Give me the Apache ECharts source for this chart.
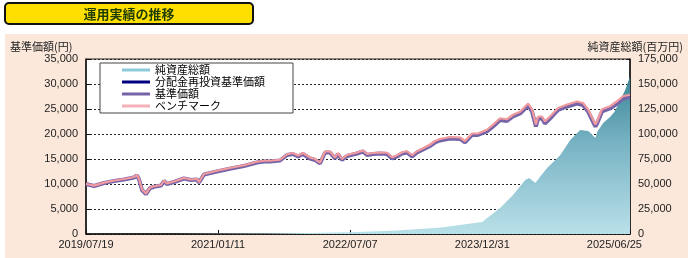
<!DOCTYPE html>
<html><head><meta charset="utf-8">
<script src="https://cdn.jsdelivr.net/npm/echarts@6/dist/echarts.min.js"></script>
<style>html,body{margin:0;padding:0;background:#fff}#c{width:691px;height:258px}</style>
</head><body><div id="c"></div>
<script>
const startDate = '2019/07/19';
const tickLabels = ['2019/07/19','2021/01/11','2022/07/07','2023/12/31','2025/06/25'];
const navDates = ['2019/07/19','2019/08/21','2019/10/01','2019/11/11','2019/12/22','2020/02/01','2020/02/13','2020/02/21','2020/03/05','2020/03/21','2020/04/07','2020/04/27','2020/05/22','2020/06/03','2020/06/15','2020/07/14','2020/08/24','2020/09/22','2020/10/16','2020/10/25','2020/11/14','2021/01/06','2021/03/05','2021/04/27','2021/06/20','2021/07/18','2021/08/12','2021/09/22','2021/10/21','2021/11/14','2021/12/05','2021/12/25','2022/01/23','2022/02/13','2022/03/05','2022/03/26','2022/04/15','2022/05/06','2022/05/18','2022/06/03','2022/06/24','2022/08/04','2022/08/29','2022/09/14','2022/10/09','2022/11/06','2022/12/05','2022/12/26','2023/01/15','2023/02/05','2023/02/25','2023/03/18','2023/04/07','2023/05/02','2023/05/30','2023/06/20','2023/07/10','2023/08/21','2023/10/01','2023/10/21','2023/11/19','2023/12/13','2024/01/19','2024/02/13','2024/03/13','2024/04/10','2024/05/05','2024/06/03','2024/07/06','2024/07/22','2024/08/07','2024/08/16','2024/09/01','2024/09/13','2024/10/12','2024/11/06','2024/12/13','2025/01/23','2025/02/16','2025/03/09','2025/04/08','2025/04/15','2025/05/05','2025/06/07','2025/07/06','2025/07/30','2025/08/28'];
const navValues = [10000,9600,10200,10600,10900,11300,11700,11000,8800,8000,9200,9500,9700,10600,10000,10400,11100,10800,10900,10300,11900,12500,13100,13600,14300,14500,14500,14700,15800,16000,15500,16000,15100,14800,14100,16300,16300,15100,16000,14800,15600,16100,16500,15800,16000,16100,16000,15100,15500,16100,16300,15500,16300,16900,17600,18300,18700,19100,19000,18300,19800,19800,20500,21500,22800,22600,23500,24100,25700,24500,21500,23100,23100,22100,23500,24800,25500,26100,25800,24500,21500,22100,24500,25100,26100,27100,27400];
const reinvestValues = navValues;
const benchValues = [10050,9680,10280,10700,11000,11400,11800,11100,8900,8100,9300,9600,9800,10700,10100,10500,11200,10900,11000,10400,12000,12650,13250,13750,14450,14650,14650,14850,15950,16200,15700,16200,15300,15000,14300,16500,16500,15300,16200,15000,15800,16300,16700,16000,16200,16300,16250,15350,15750,16350,16550,15750,16550,17150,17850,18600,19000,19400,19300,18600,20100,20100,20850,21850,23150,22950,23850,24450,26100,24900,21900,23500,23500,22500,23900,25200,25900,26500,26200,24900,21900,22500,24950,25550,26550,27550,27850];
const assetDates = ['2019/07/19','2020/07/15','2021/01/11','2021/08/01','2022/01/15','2022/07/07','2023/01/15','2023/07/15','2023/12/31','2024/01/10','2024/02/10','2024/03/13','2024/05/05','2024/06/24','2024/07/10','2024/08/05','2024/08/20','2024/09/22','2024/11/03','2024/11/15','2024/12/26','2025/02/05','2025/03/10','2025/04/08','2025/04/15','2025/05/10','2025/06/07','2025/06/25','2025/07/20','2025/08/10','2025/08/20','2025/08/28'];
const assetValues = [0,50,150,400,900,1700,3500,6500,12000,14000,20000,26000,39000,54000,56000,51000,56000,66000,76000,79000,94000,104000,103000,96000,102000,111000,117000,122000,134000,145000,152000,157000];

function dayOf(s){const p=s.split('/').map(Number);const q=startDate.split('/').map(Number);return Math.round((Date.UTC(p[0],p[1]-1,p[2])-Date.UTC(q[0],q[1]-1,q[2]))/86400000);}
const tickStep = dayOf(tickLabels[1]);
const endDay = dayOf(navDates[navDates.length-1]);
const pair = (d,v)=>d.map((x,i)=>[dayOf(x),v[i]]);

const FONT = "'Liberation Sans','Noto Sans CJK JP',sans-serif";
const chart = echarts.init(document.getElementById('c'));
chart.setOption({
  animation:false,
  backgroundColor:'#fff',
  graphic:[
    {type:'rect',z:-100,shape:{x:5,y:34,width:683,height:224},style:{fill:'#fbe8da'}},
    {type:'rect',z:100,shape:{x:5,y:3,width:248,height:21,r:4},style:{fill:'#ffdf00',stroke:'#111',lineWidth:2}},
    {type:'text',z:101,x:129,y:14,style:{text:'運用実績の推移',fill:'#1f3d00',font:"bold 13px 'Noto Sans CJK JP',sans-serif",align:'center',verticalAlign:'middle'}},
    {type:'text',z:101,x:10,y:47,style:{text:'基準価額(円)',fill:'#222',font:"11px 'Noto Sans CJK JP',sans-serif",verticalAlign:'middle'}},
    {type:'text',z:101,x:683,y:47,style:{text:'純資産総額(百万円)',fill:'#222',font:"11px 'Noto Sans CJK JP',sans-serif",align:'right',verticalAlign:'middle'}}
  ],
  grid:{left:86,right:61,top:59,bottom:24,show:true,backgroundColor:'#fff',borderColor:'#222',borderWidth:1},
  legend:{
    orient:'vertical',left:100,top:63,backgroundColor:'#fff',borderColor:'#444',borderWidth:1,
    padding:[1,28,1,22],itemWidth:28,itemHeight:3,itemGap:0,
    textStyle:{fontSize:11,color:'#000',fontFamily:"'Noto Sans CJK JP',sans-serif",lineHeight:12},
    data:[{name:'純資産総額',icon:'rect'},{name:'分配金再投資基準価額',icon:'rect'},{name:'基準価額',icon:'rect'},{name:'ベンチマーク',icon:'rect'}]
  },
  xAxis:{type:'value',min:0,max:endDay,interval:tickStep,
    axisLine:{lineStyle:{color:'#111',width:1.5}},
    axisTick:{inside:true,length:4,lineStyle:{color:'#111'}},
    splitLine:{show:false},
    axisLabel:{margin:5,fontSize:11,color:'#222',fontFamily:FONT,
      formatter:v=>{const i=v/tickStep;return Number.isInteger(i)&&tickLabels[i]?tickLabels[i]:'';}}
  },
  yAxis:[
    {type:'value',min:0,max:35000,interval:5000,
      axisLine:{show:true,lineStyle:{color:'#111',width:1.5}},
      axisTick:{show:true,inside:true,length:4,lineStyle:{color:'#111'}},
      splitLine:{show:true,lineStyle:{color:'#222',type:[2,2],width:1}},
      axisLabel:{margin:8,fontSize:11,color:'#222',fontFamily:FONT,formatter:v=>v.toLocaleString('en-US')}},
    {type:'value',min:0,max:175000,interval:25000,position:'right',
      axisLine:{show:true,lineStyle:{color:'#111',width:1.5}},
      axisTick:{show:true,inside:true,length:4,lineStyle:{color:'#111'}},
      splitLine:{show:false},
      axisLabel:{margin:8,fontSize:11,color:'#222',fontFamily:FONT,formatter:v=>v.toLocaleString('en-US')}}
  ],
  series:[
    {name:'純資産総額',type:'line',yAxisIndex:1,data:pair(assetDates,assetValues),symbol:'none',
      itemStyle:{color:'#8ccbd8'},lineStyle:{width:0},
      areaStyle:{opacity:1,color:new echarts.graphic.LinearGradient(0,59,0,234,[{offset:0,color:'#2d7a8c'},{offset:0.5,color:'#7ab5c5'},{offset:1,color:'#b9e0e9'}],true)}},
    {name:'分配金再投資基準価額',type:'line',data:pair(navDates,reinvestValues),symbol:'none',itemStyle:{color:'#000080'},lineStyle:{width:2,color:'#000080'}},
    {name:'基準価額',type:'line',data:pair(navDates,navValues),symbol:'none',itemStyle:{color:'#7564a8'},lineStyle:{width:4,color:'#7564a8'}},
    {name:'ベンチマーク',type:'line',data:pair(navDates,benchValues),symbol:'none',itemStyle:{color:'#f7b0b8'},lineStyle:{width:2.2,color:'#f29a9e'}}
  ]
});
</script></body></html>
